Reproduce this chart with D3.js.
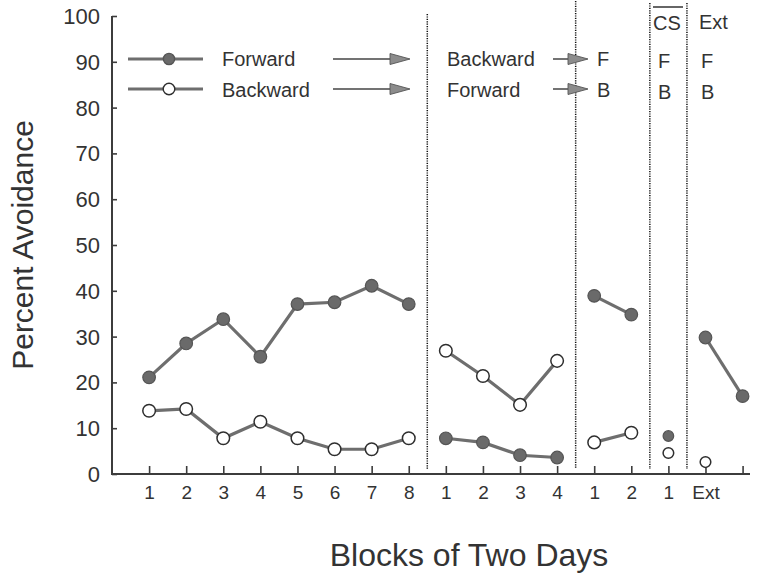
<!DOCTYPE html>
<html>
<head>
<meta charset="utf-8">
<script src="https://cdn.jsdelivr.net/npm/d3@7"></script>
<style>
  body { margin: 0; background: #fff; }
  svg text { font-family: "Liberation Sans", Arial, Helvetica, sans-serif; fill: #333; }
</style>
</head>
<body>
<div class="chart"></div>
<script>
(() => {
  // tick labels along the x axis (last tick has no label)
  const tickLabels = ["1", "2", "3", "4", "5", "6", "7", "8",
                      "1", "2", "3", "4",
                      "1", "2",
                      "1",
                      "Ext", ""];
  // which phase each tick belongs to
  const phaseOf = [0, 0, 0, 0, 0, 0, 0, 0, 1, 1, 1, 1, 2, 2, 3, 4, 4];
  // percent avoidance, group trained Forward first
  const forwardGroup = [21.1, 28.5, 33.8, 25.6, 37.1, 37.5, 41.1, 37.1,
                        7.8, 6.9, 4.1, 3.6,
                        38.9, 34.8,
                        8.3,
                        29.8, 17.0];
  // percent avoidance, group trained Backward first
  const backwardGroup = [13.8, 14.2, 7.8, 11.4, 7.8, 5.4, 5.4, 7.8,
                         26.9, 21.4, 15.1, 24.7,
                         6.9, 9.0,
                         4.6,
                         2.6, null];
  const yTicks = [0, 10, 20, 30, 40, 50, 60, 70, 80, 90, 100];
  const dividers = [7.5, 11.5, 13.5, 14.5];

  const width = 758, height = 574;
  const svg = d3.select(".chart").append("svg")
    .attr("width", width).attr("height", height);

  const x = d3.scaleLinear().domain([-1, 16.2]).range([112, 750]);
  const y = d3.scaleLinear().domain([0, 100]).range([474, 16]);

  const axisCol = "#3c3c3c";
  const lineCol = "#6e6e6e";

  // dotted phase dividers
  const divTops = [14, 1, 3, 3];
  svg.append("g").selectAll("line").data(dividers).enter().append("line")
    .attr("x1", d => x(d)).attr("x2", d => x(d))
    .attr("y1", (d, i) => divTops[i]).attr("y2", y(0) - 5)
    .attr("stroke", "#111").attr("stroke-width", 1.5)
    .attr("stroke-dasharray", "1.2,1.2");

  // y axis
  const yAxis = d3.axisLeft(y).tickValues(yTicks)
    .tickSizeInner(-5).tickSizeOuter(0).tickPadding(12);
  const yg = svg.append("g").attr("transform", `translate(${x(-1)},0)`).call(yAxis);
  yg.select(".domain").remove();
  yg.selectAll(".tick line").attr("stroke", axisCol).attr("stroke-width", 1.6);
  yg.selectAll("text").style("font-size", "22px").style("font-family", "Liberation Sans, Arial, sans-serif")
    .attr("fill", "#333").attr("dy", "0.34em");
  svg.append("line")
    .attr("x1", x(-1)).attr("x2", x(-1)).attr("y1", y(100)).attr("y2", y(0))
    .attr("stroke", axisCol).attr("stroke-width", 2);

  // x axis
  const xAxis = d3.axisBottom(x).tickValues(d3.range(tickLabels.length))
    .tickFormat(i => tickLabels[i])
    .tickSizeInner(-8).tickSizeOuter(0).tickPadding(12);
  const xg = svg.append("g").attr("transform", `translate(0,${y(0)})`).call(xAxis);
  xg.select(".domain").remove();
  xg.selectAll(".tick line").attr("stroke", axisCol).attr("stroke-width", 1.6);
  xg.selectAll("text").style("font-size", "19px").style("font-family", "Liberation Sans, Arial, sans-serif")
    .attr("fill", "#333");
  svg.append("line")
    .attr("x1", x(-1) - 1).attr("x2", x(16.2)).attr("y1", y(0)).attr("y2", y(0))
    .attr("stroke", axisCol).attr("stroke-width", 2);

  // axis titles
  svg.append("text")
    .attr("transform", `translate(33,${(y(0) + y(100)) / 2}) rotate(-90)`)
    .attr("text-anchor", "middle")
    .style("font-size", "30px")
    .text("Percent Avoidance");
  svg.append("text")
    .attr("x", 469).attr("y", 566)
    .attr("text-anchor", "middle")
    .style("font-size", "32px")
    .text("Blocks of Two Days");

  // split a series into runs within a phase
  function runs(values) {
    const out = [];
    let cur = [];
    values.forEach((v, i) => {
      if (v === null || (cur.length && phaseOf[cur[cur.length - 1].i] !== phaseOf[i])) {
        if (cur.length) out.push(cur);
        cur = [];
      }
      if (v !== null) cur.push({ i, v });
    });
    if (cur.length) out.push(cur);
    return out;
  }

  const line = d3.line().x(d => x(d.i)).y(d => y(d.v));

  function drawSeries(values, filled) {
    const g = svg.append("g");
    runs(values).filter(r => r.length > 1).forEach(r => {
      g.append("path").attr("d", line(r))
        .attr("fill", "none").attr("stroke", lineCol).attr("stroke-width", 3.2);
    });
    g.selectAll("circle").data(values.map((v, i) => ({ i, v })).filter(d => d.v !== null))
      .enter().append("circle")
      .attr("cx", d => x(d.i)).attr("cy", d => y(d.v))
      .attr("r", d => (phaseOf[d.i] === 3 || (phaseOf[d.i] === 4 && !filled)) ? 5.3 : 6.3)
      .attr("fill", filled ? "#6a6a6a" : "#fff")
      .attr("stroke", filled ? "#555" : "#2e2e2e")
      .attr("stroke-width", filled ? 1.2 : 1.5);
  }
  drawSeries(forwardGroup, true);
  drawSeries(backwardGroup, false);

  // legend
  const legend = [
    { label: "Forward", yy: 59, filled: true, next: "Backward", short: "F", ty: 66 },
    { label: "Backward", yy: 89, filled: false, next: "Forward", short: "B", ty: 96.5 },
  ];
  legend.forEach(l => {
    svg.append("line").attr("x1", 128).attr("x2", 203).attr("y1", l.yy).attr("y2", l.yy)
      .attr("stroke", lineCol).attr("stroke-width", 3.2);
    svg.append("circle").attr("cx", 169).attr("cy", l.yy).attr("r", l.filled ? 5.6 : 5.8)
      .attr("fill", l.filled ? "#6a6a6a" : "#fff")
      .attr("stroke", l.filled ? "#555" : "#2e2e2e").attr("stroke-width", 1.4);
    svg.append("text").attr("x", 222).attr("y", l.ty).style("font-size", "20px").text(l.label);
    arrow(333, 410, l.yy);
    svg.append("text").attr("x", 447).attr("y", l.ty).style("font-size", "20px").text(l.next);
    arrow(553, 588, l.yy);
    svg.append("text").attr("x", 597).attr("y", l.ty).style("font-size", "20px").text(l.short);
    svg.append("text").attr("x", 658).attr("y", l.ty + 2).style("font-size", "20px").text(l.short);
    svg.append("text").attr("x", 701).attr("y", l.ty + 2).style("font-size", "20px").text(l.short);
  });

  function arrow(x1, x2, yy) {
    svg.append("line").attr("x1", x1).attr("x2", x2 - 16).attr("y1", yy).attr("y2", yy)
      .attr("stroke", "#444").attr("stroke-width", 1.5);
    svg.append("path")
      .attr("d", `M${x2 - 20},${yy - 5.5}L${x2},${yy}L${x2 - 20},${yy + 5.5}Z`)
      .attr("fill", "#8c8c8c").attr("stroke", "#555").attr("stroke-width", 0.9);
  }

  // phase headers in the last two sections
  svg.append("text").attr("x", 653).attr("y", 30).style("font-size", "20px").text("CS");
  svg.append("line").attr("x1", 653).attr("x2", 683).attr("y1", 7).attr("y2", 7)
    .attr("stroke", "#333").attr("stroke-width", 1.5);
  svg.append("text").attr("x", 699).attr("y", 29).style("font-size", "20px").text("Ext");
})();
</script>
</body>
</html>
